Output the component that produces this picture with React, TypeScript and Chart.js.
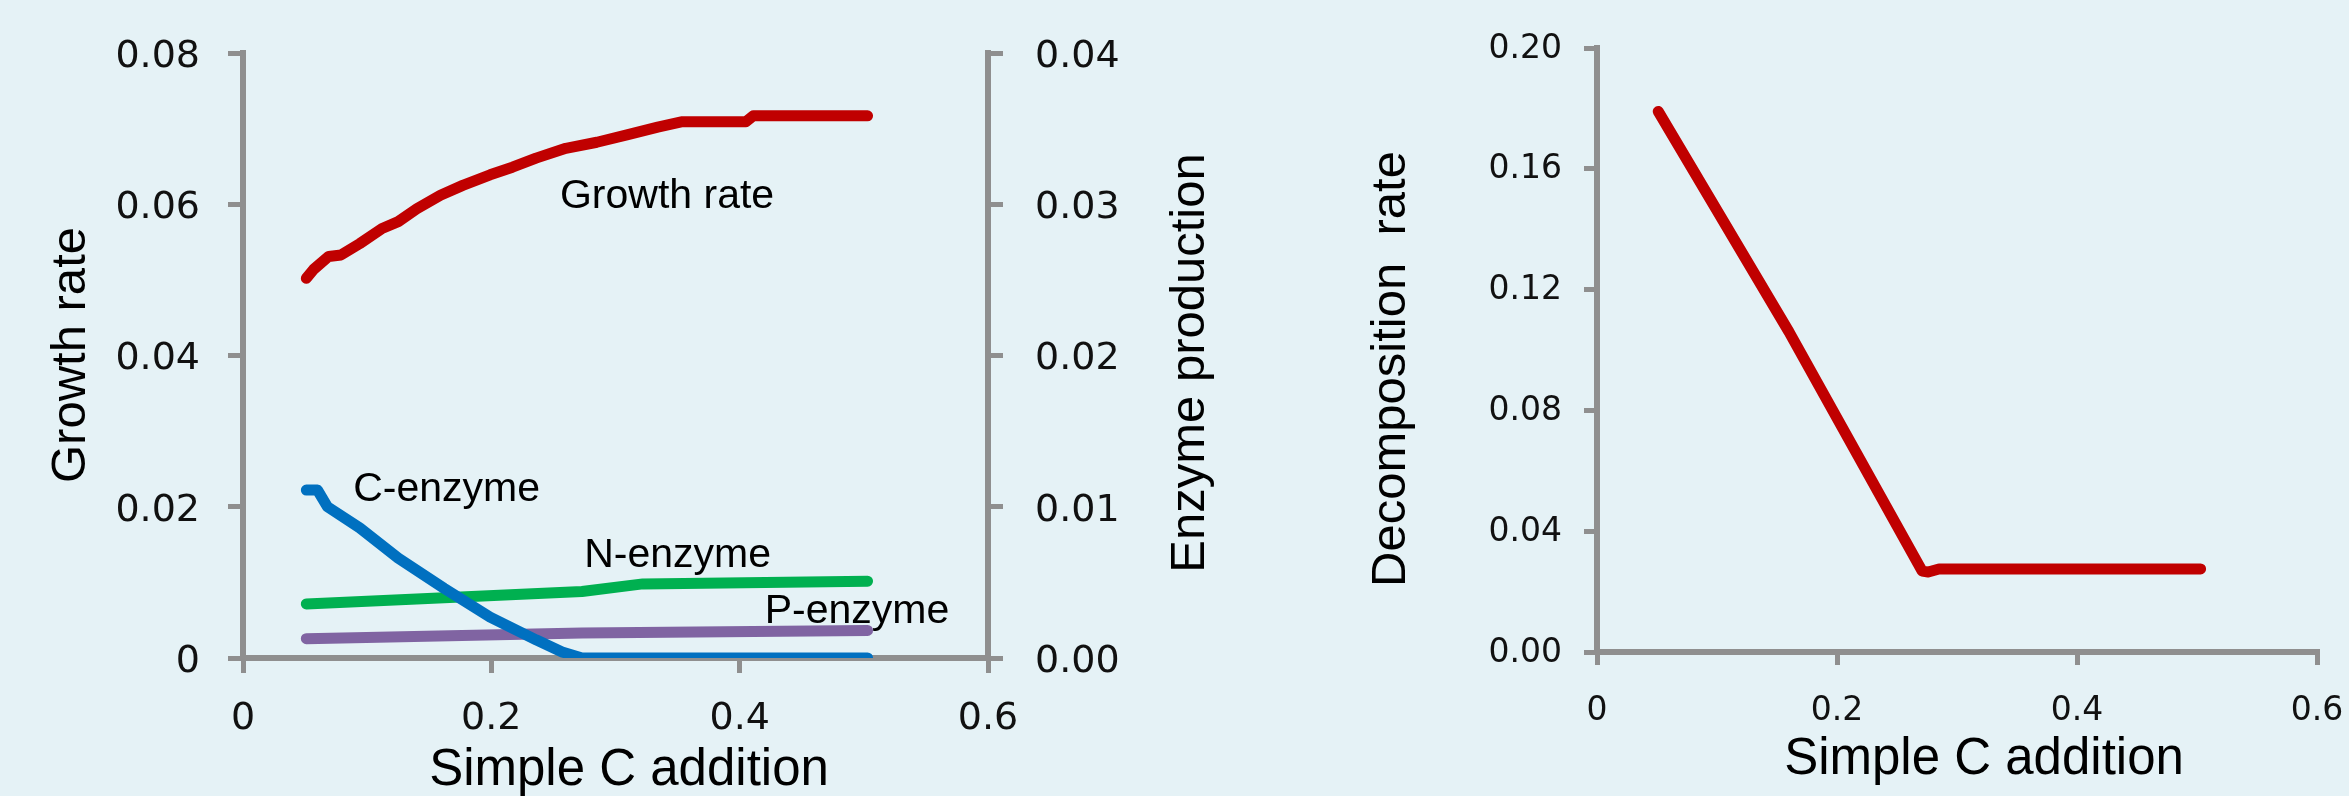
import React, { useEffect, useRef } from 'react';
import { Chart, registerables } from 'chart.js';

Chart.register(...registerables);

// ---------- data ----------
const xTickValues = [0, 0.2, 0.4, 0.6];

const growthX = [0.051, 0.057, 0.069, 0.079, 0.094, 0.112, 0.125, 0.14, 0.159, 0.177, 0.199, 0.217, 0.236, 0.26, 0.285, 0.31, 0.334, 0.353, 0.405, 0.411, 0.503];
const growthY = [0.0502, 0.0514, 0.0531, 0.0533, 0.0548, 0.0568, 0.0577, 0.0594, 0.0612, 0.0625, 0.0639, 0.0649, 0.0661, 0.0674, 0.0682, 0.0692, 0.0702, 0.0709, 0.0709, 0.0717, 0.0717];

const cEnzX = [0.051, 0.06, 0.068, 0.094, 0.125, 0.162, 0.199, 0.236, 0.257, 0.273, 0.503];
const cEnzY = [0.0111, 0.0111, 0.0100, 0.0086, 0.0066, 0.0046, 0.0027, 0.0012, 0.0004, 0.0, 0.0];

const nEnzX = [0.051, 0.273, 0.322, 0.503];
const nEnzY = [0.00357, 0.0044, 0.0049, 0.00508];

const pEnzX = [0.051, 0.273, 0.503];
const pEnzY = [0.00128, 0.00165, 0.00182];

const decompX = [0.051, 0.16, 0.271, 0.276, 0.285, 0.503];
const decompY = [0.179, 0.106, 0.0268, 0.0265, 0.0275, 0.0275];

// ---------- styles ----------
const AXIS = '#8f8f8f';
const BG = '#E5F2F6';
const TICK_FONT = '"DejaVu Sans", sans-serif';
const TEXT_FONT = '"Liberation Sans", Arial, sans-serif';
const TXT = '#111111';

const pts = (xs: number[], ys: number[]) => xs.map((x, i) => ({ x, y: ys[i] }));

type TitleItem = { text: string; x: number; y: number; size: number; rotate?: boolean };
type LabelItem = { text: string; x: number; y: number; axis: string; size: number };

function makeTextPlugin(titles: TitleItem[], labels: LabelItem[]) {
  return {
    id: 'texts',
    afterDraw(chart: any) {
      const ctx = chart.ctx as CanvasRenderingContext2D;
      ctx.save();
      ctx.fillStyle = '#000';
      ctx.textAlign = 'center';
      ctx.textBaseline = 'middle';
      for (const t of titles) {
        ctx.font = `${t.size}px ${TEXT_FONT}`;
        ctx.save();
        ctx.translate(t.x, t.y);
        if (t.rotate) ctx.rotate(-Math.PI / 2);
        ctx.fillText(t.text, 0, 0);
        ctx.restore();
      }
      for (const l of labels) {
        const px = chart.scales.x.getPixelForValue(l.x);
        const py = chart.scales[l.axis].getPixelForValue(l.y);
        ctx.font = `${l.size}px ${TEXT_FONT}`;
        ctx.fillText(l.text, px, py);
      }
      ctx.restore();
    },
  };
}

function gridOpts(tickLength: number) {
  return {
    drawOnChartArea: false,
    drawTicks: true,
    tickLength,
    tickWidth: 5,
    tickColor: AXIS,
    color: AXIS,
    lineWidth: 5,
  };
}
const borderOpts = { display: true, color: AXIS, width: 6 };

const fmtX = (v: number) => (Math.abs(v) < 1e-9 ? '0' : Number(v).toFixed(1));

function lineDs(label: string, data: any[], color: string, axis: string) {
  return {
    label,
    data,
    borderColor: color,
    backgroundColor: color,
    borderWidth: 11,
    pointRadius: 0,
    tension: 0,
    borderCapStyle: 'round' as const,
    borderJoinStyle: 'round' as const,
    yAxisID: axis,
  };
}

export default function App() {
  const leftRef = useRef<HTMLCanvasElement>(null);
  const rightRef = useRef<HTMLCanvasElement>(null);

  useEffect(() => {
    const LW = 1250;
    const left = new Chart(leftRef.current as HTMLCanvasElement, {
      type: 'line',
      data: {
        datasets: [
          lineDs('Growth rate', pts(growthX, growthY), '#C00000', 'y'),
          lineDs('C-enzyme', pts(cEnzX, cEnzY), '#0070C0', 'y1'),
          lineDs('N-enzyme', pts(nEnzX, nEnzY), '#00B050', 'y1'),
          lineDs('P-enzyme', pts(pEnzX, pEnzY), '#8064A2', 'y1'),
        ],
      },
      options: {
        responsive: false,
        animation: false,
        devicePixelRatio: 1,
        layout: { padding: { top: 53, left: 0, right: 0, bottom: 0 } },
        plugins: { legend: { display: false }, tooltip: { enabled: false } },
        scales: {
          x: {
            type: 'linear',
            min: 0,
            max: 0.6,
            afterBuildTicks: (s: any) => { s.ticks = xTickValues.map((v) => ({ value: v })); },
            ticks: { callback: (v: any) => fmtX(v), font: { family: TICK_FONT, size: 38, lineHeight: 1 }, color: TXT, padding: 27, maxRotation: 0 },
            grid: gridOpts(15),
            border: borderOpts,
            afterFit: (s: any) => { s.height = 796 - 658; },
          },
          y: {
            position: 'left',
            min: 0,
            max: 0.08,
            ticks: { stepSize: 0.02, callback: (v: any) => (Math.abs(v) < 1e-9 ? '0' : Number(v).toFixed(2)), font: { family: TICK_FONT, size: 38, lineHeight: 1 }, color: TXT, padding: 28, labelOffset: 4 },
            grid: gridOpts(15),
            border: borderOpts,
            afterFit: (s: any) => { s.width = 243; },
          },
          y1: {
            position: 'right',
            min: 0,
            max: 0.04,
            ticks: { stepSize: 0.01, callback: (v: any) => Number(v).toFixed(2), font: { family: TICK_FONT, size: 38, lineHeight: 1 }, color: TXT, padding: 32, labelOffset: 4 },
            grid: gridOpts(15),
            border: borderOpts,
            afterFit: (s: any) => { s.width = LW - 988; },
          },
        },
      } as any,
      plugins: [
        makeTextPlugin(
          [
            { text: 'Growth rate', x: 71, y: 355, size: 49, rotate: true },
            { text: 'Enzyme production', x: 1190, y: 363, size: 49, rotate: true },
            { text: 'Simple C addition', x: 629, y: 771, size: 51 },
          ],
          [
            { text: 'Growth rate', x: 0.3415, y: 0.061, axis: 'y', size: 41 },
            { text: 'C-enzyme', x: 0.164, y: 0.0222, axis: 'y', size: 41 },
            { text: 'N-enzyme', x: 0.35, y: 0.0135, axis: 'y', size: 41 },
            { text: 'P-enzyme', x: 0.4945, y: 0.0061, axis: 'y', size: 41 },
          ]
        ),
      ],
    });

    const RX = 1250;
    const RW = 1150;
    const right = new Chart(rightRef.current as HTMLCanvasElement, {
      type: 'line',
      data: {
        datasets: [lineDs('Decomposition rate', pts(decompX, decompY), '#C00000', 'y')],
      },
      options: {
        responsive: false,
        animation: false,
        devicePixelRatio: 1,
        layout: { padding: { top: 48, left: 0, right: RX + RW - 2317, bottom: 0 } },
        plugins: { legend: { display: false }, tooltip: { enabled: false } },
        scales: {
          x: {
            type: 'linear',
            min: 0,
            max: 0.6,
            afterBuildTicks: (s: any) => { s.ticks = xTickValues.map((v) => ({ value: v })); },
            ticks: { callback: (v: any) => fmtX(v), font: { family: TICK_FONT, size: 33, lineHeight: 1 }, color: TXT, padding: 30, maxRotation: 0 },
            grid: gridOpts(13),
            border: borderOpts,
            afterFit: (s: any) => { s.height = 796 - 652; },
          },
          y: {
            position: 'left',
            min: 0,
            max: 0.2,
            ticks: { stepSize: 0.04, callback: (v: any) => Number(v).toFixed(2), font: { family: TICK_FONT, size: 33, lineHeight: 1 }, color: TXT, padding: 22, labelOffset: 1 },
            grid: gridOpts(13),
            border: borderOpts,
            afterFit: (s: any) => { s.width = 1597 - RX; },
          },
        },
      } as any,
      plugins: [
        makeTextPlugin(
          [
            { text: 'Decomposition  rate', x: 1391 - RX, y: 369, size: 49, rotate: true },
            { text: 'Simple C addition', x: 1984 - RX, y: 760, size: 51 },
          ],
          []
        ),
      ],
    });

    return () => {
      left.destroy();
      right.destroy();
    };
  }, []);

  return (
    <div style={{ position: 'fixed', left: 0, top: 0, width: 2349, height: 796, overflow: 'hidden', background: BG }}>
      <canvas ref={leftRef} width={1250} height={796} style={{ position: 'absolute', left: 0, top: 0, width: 1250, height: 796 }} />
      <canvas ref={rightRef} width={1150} height={796} style={{ position: 'absolute', left: 1250, top: 0, width: 1150, height: 796 }} />
    </div>
  );
}
